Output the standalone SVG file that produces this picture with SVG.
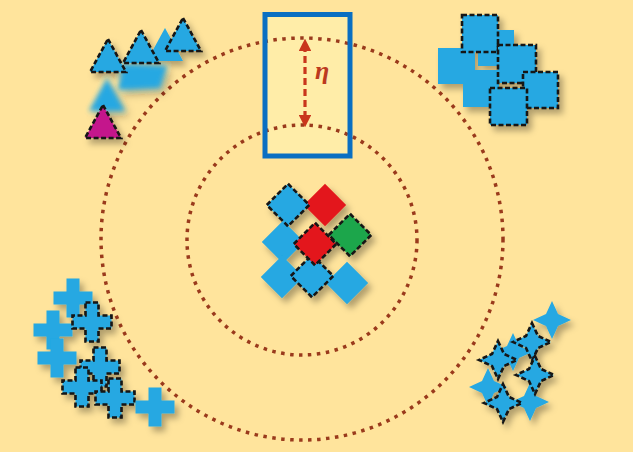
<svg xmlns="http://www.w3.org/2000/svg" xmlns:xlink="http://www.w3.org/1999/xlink" width="633" height="452" viewBox="0 0 633 452">
<style>
.b{fill:#25A8E2}
.r{fill:#E3191E}
.g{fill:#1DA64B}
.m{fill:#C4178C}
.d{stroke:#141414;stroke-width:2.6;stroke-dasharray:5 2.5}
.ring{fill:none;stroke:#9A3A1C;stroke-width:3.5;stroke-dasharray:3.5 5.5}
</style>
<defs>
<filter id="sh" x="-30%" y="-30%" width="170%" height="170%">
<feDropShadow dx="4" dy="5" stdDeviation="3" flood-color="#000" flood-opacity="0.3"/>
</filter>
<filter id="bl" x="-30%" y="-30%" width="160%" height="160%">
<feGaussianBlur stdDeviation="2.5"/>
</filter>
<path id="tri" d="M0,0 L18,33 L-18,33 Z"/>
<rect id="sq" x="-15" y="-15" width="30" height="30"/>
<path id="cross" d="M-6.5,-19.5h13v13h13v13h-13v13h-13v-13h-13v-13h13z"/>
<path id="star" d="M0,-19 L6,-6 L19,0 L6,6 L0,19 L-6,6 L-19,0 L-6,-6Z"/>
<marker id="ah" viewBox="0 0 10 10" refX="5" refY="5" markerWidth="4" markerHeight="4" orient="auto-start-reverse">
<path d="M0,0 L10,5 L0,10 Z" fill="#C9361C"/>
</marker>
</defs>
<rect width="633" height="452" fill="#FFE49C"/>
<rect x="265" y="14.5" width="85" height="141.5" fill="#FFEDA8"/>

<g id="rings">
<circle class="ring" cx="302" cy="239" r="201"/>
<circle class="ring" cx="302" cy="240" r="115"/>
</g>

<g id="eta-box">
<rect x="265" y="14.5" width="85" height="141.5" fill="none" stroke="#0A6FC2" stroke-width="5"/>
</g>

<g id="connectors">
<line x1="305" y1="45" x2="305" y2="121" stroke="#C9361C" stroke-width="3.2" stroke-dasharray="7 4" marker-start="url(#ah)" marker-end="url(#ah)"/>
</g>
<text x="315" y="79" font-family="Liberation Serif, serif" font-style="italic" font-weight="bold" font-size="26" fill="#BC3A1E">η</text>

<g id="triangles" filter="url(#sh)">
<polygon class="b" points="123,64 167,66 160,88 118,90" filter="url(#bl)"/>
<use href="#tri" class="b" x="107" y="78" filter="url(#bl)"/>
<use href="#tri" class="b" x="165" y="28"/>
<use href="#tri" class="b d" x="108" y="39"/>
<use href="#tri" class="b d" x="141" y="30"/>
<use href="#tri" class="b d" x="183" y="18"/>
<use href="#tri" class="m d" x="103" y="105"/>
</g>

<g id="squares" filter="url(#sh)">
<rect class="b" x="438" y="48" width="37" height="36"/>
<rect class="b" x="463" y="70" width="36" height="37"/>
<rect class="b" x="478" y="30" width="36" height="36"/>
<rect class="b d" x="462" y="15" width="36" height="37"/>
<rect class="b d" x="498" y="45" width="38" height="38"/>
<rect class="b d" x="523" y="72" width="35" height="36"/>
<rect class="b d" x="490" y="88" width="37" height="37"/>
</g>

<g id="diamonds" filter="url(#sh)">
<use href="#sq" class="b" transform="translate(283 242) rotate(45)"/>
<use href="#sq" class="b" transform="translate(282 277) rotate(45)"/>
<use href="#sq" class="b" transform="translate(347 283) rotate(45)"/>
<use href="#sq" class="r" transform="translate(325 205) rotate(45)"/>
<use href="#sq" class="b d" transform="translate(288 205) rotate(45)"/>
<use href="#sq" class="g d" transform="translate(350 235) rotate(45)"/>
<use href="#sq" class="b d" transform="translate(312 276) rotate(45)"/>
<use href="#sq" class="r d" transform="translate(315 244) rotate(45)"/>
</g>

<g id="crosses" filter="url(#sh)">
<use href="#cross" class="b" x="73" y="298"/>
<use href="#cross" class="b" x="53" y="330"/>
<use href="#cross" class="b" x="57" y="358"/>
<use href="#cross" class="b d" x="92" y="322"/>
<use href="#cross" class="b d" x="100" y="367"/>
<use href="#cross" class="b d" x="82" y="387"/>
<use href="#cross" class="b d" x="115" y="398"/>
<use href="#cross" class="b" x="155" y="407"/>
</g>

<g id="stars" filter="url(#sh)">
<use href="#star" class="b" x="552" y="320"/>
<use href="#star" class="b" x="513" y="352"/>
<use href="#star" class="b" x="488" y="387"/>
<use href="#star" class="b" x="530" y="402"/>
<use href="#star" class="b d" x="532" y="342"/>
<use href="#star" class="b d" x="498" y="360"/>
<use href="#star" class="b d" x="535" y="375"/>
<use href="#star" class="b d" x="503" y="403"/>
</g>
</svg>
